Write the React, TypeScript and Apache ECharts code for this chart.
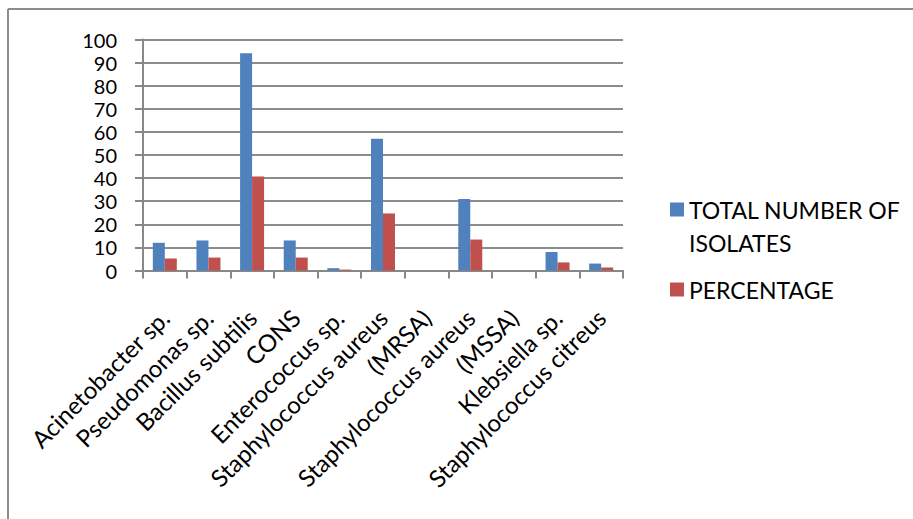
import React, { useEffect, useRef } from "react";
import * as echarts from "echarts";

const categories = [
  "Acinetobacter sp.",
  "Pseudomonas sp.",
  "Bacillus subtilis",
  "CONS",
  "Enterococcus sp.",
  "Staphylococcus aureus",
  "(MRSA)",
  "Staphylococcus aureus",
  "(MSSA)",
  "Klebsiella sp.",
  "Staphylococcus citreus",
];
const totalIsolates = [12, 13, 94, 13, 1, 57, null, 31, null, 8, 3];
const percentage = [5.2, 5.6, 40.7, 5.6, 0.4, 24.7, null, 13.4, null, 3.5, 1.3];
const yTicks = { min: 0, max: 100, interval: 10 };
const seriesNames = ["TOTAL NUMBER OF ISOLATES", "PERCENTAGE"];

const FONT = "Lato, 'Open Sans', sans-serif";

export default function App() {
  const ref = useRef<HTMLDivElement>(null);
  useEffect(() => {
    if (!ref.current) return;
    const chart = echarts.init(ref.current, undefined, { renderer: "svg" });
    chart.setOption({
      animation: false,
      backgroundColor: "#ffffff",
      textStyle: { fontFamily: FONT },
      grid: { left: 143, right: 290, top: 39.5, bottom: 248.5, containLabel: false },
      graphic: [
        { type: "line", shape: { x1: 8, y1: 9, x2: 913, y2: 9 }, style: { stroke: "#8c8c8c", lineWidth: 2 } },
        { type: "line", shape: { x1: 8, y1: 9, x2: 8, y2: 519 }, style: { stroke: "#8c8c8c", lineWidth: 2 } },
      ],
      legend: [
        {
          data: [seriesNames[0]],
          left: 665,
          top: 155,
          orient: "vertical",
          itemWidth: 14,
          itemHeight: 14,
          itemGap: 10,
          icon: "rect",
          formatter: () => "\nTOTAL NUMBER OF\nISOLATES",
          textStyle: { fontSize: 23, color: "#000", fontFamily: FONT, lineHeight: 33 },
        },
        {
          data: [seriesNames[1]],
          left: 665,
          top: 268,
          orient: "vertical",
          itemWidth: 14,
          itemHeight: 14,
          icon: "rect",
          textStyle: { fontSize: 23, color: "#000", fontFamily: FONT, lineHeight: 33 },
        },
      ],
      xAxis: {
        type: "category",
        data: categories,
        axisLine: { show: true, lineStyle: { color: "#888", width: 2 } },
        axisTick: { show: true, length: 8, alignWithLabel: false, lineStyle: { color: "#888", width: 2 } },
        axisLabel: {
          interval: 0,
          rotate: 45,
          margin: 43,
          fontSize: 24,
          color: "#000",
          fontFamily: FONT,
        },
        splitLine: { show: false },
      },
      yAxis: {
        type: "value",
        min: yTicks.min,
        max: yTicks.max,
        interval: yTicks.interval,
        axisLine: { show: true, lineStyle: { color: "#888", width: 2 } },
        axisTick: { show: true, length: 8, lineStyle: { color: "#888", width: 2 } },
        axisLabel: { fontSize: 20, lineHeight: 20, color: "#000", margin: 26, fontFamily: FONT },
        splitLine: { show: true, lineStyle: { color: "#8c8c8c", width: 2 } },
      },
      series: [
        {
          name: seriesNames[0],
          type: "bar",
          data: totalIsolates,
          barWidth: 12,
          barGap: "0%",
          itemStyle: { color: "#4F81BD" },
        },
        {
          name: seriesNames[1],
          type: "bar",
          data: percentage,
          barWidth: 12,
          barGap: "0%",
          itemStyle: { color: "#C0504D" },
        },
      ],
    });
    return () => chart.dispose();
  }, []);
  return (
    <div
      ref={ref}
      style={{ position: "absolute", left: 0, top: 0, width: 913, height: 519 }}
    />
  );
}
